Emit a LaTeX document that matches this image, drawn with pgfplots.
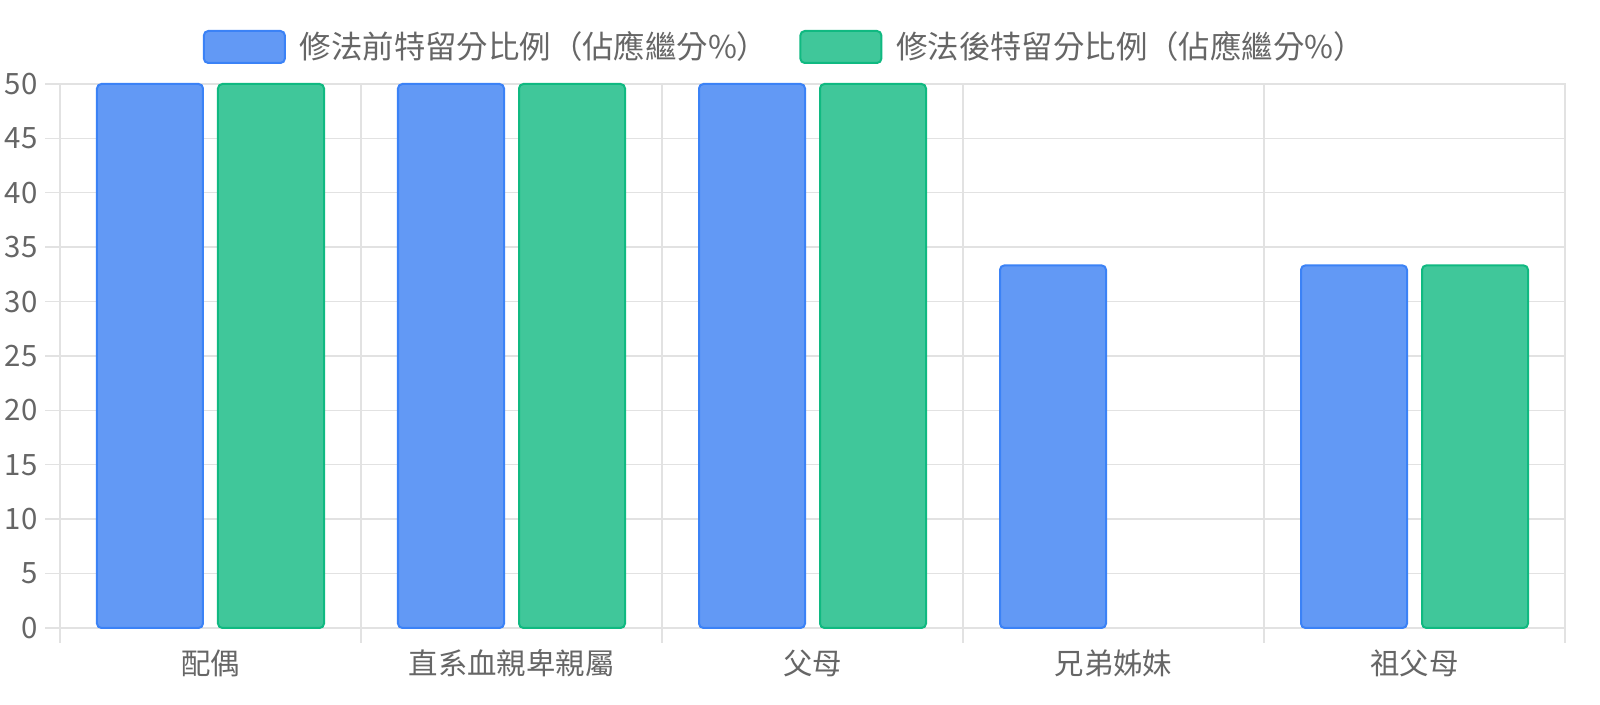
\documentclass[border=0pt]{standalone}
\usepackage{fontspec}
\setmainfont{Noto Sans CJK TC}
\usepackage{pgfplots}
\pgfplotsset{compat=1.18}
\definecolor{blueF}{RGB}{98,153,245}
\definecolor{blueD}{RGB}{59,130,246}
\definecolor{greenF}{RGB}{64,199,154}
\definecolor{greenD}{RGB}{16,185,129}
\definecolor{txt}{RGB}{102,102,102}
\definecolor{grd}{RGB}{226,226,226}
\begin{document}
\begin{tikzpicture}
\begin{axis}[name=ax,
  scale only axis, width=752.5pt, height=272pt,
  ymin=0, ymax=50, ytick={0,5,...,50},
  xmin=-0.5, xmax=4.5,
  xtick={0,...,4},
  xticklabels={配偶,直系血親卑親屬,父母,兄弟姊妹,祖父母},
  minor xtick={-0.5,0.5,...,4.5},
  ymajorgrids, xminorgrids, xmajorgrids=false,
  grid style={draw=grd, line width=0.7pt},
  axis line style={draw=grd, line width=0.7pt},
  tick align=outside, major tick length=7.5pt, minor tick length=7.5pt,
  tick style={draw=grd, line width=0.7pt},
  major x tick style={draw=none},
  xtick pos=bottom, ytick pos=left,
  ticklabel style={font=\fontsize{14.7}{17}\selectfont, text=txt},
  /pgf/number format/assume math mode=true,
  yticklabel style={inner sep=3.5pt},
  clip=false,
  ybar=7.5pt, bar width=53pt,
  legend columns=2,
  legend style={at={([xshift=5.5pt,yshift=18.5pt]axis description cs:0.475,1)}, anchor=center,
    draw=none, fill=none, font=\fontsize{15.7}{18}\selectfont, text=txt,
    /tikz/every even column/.append style={column sep=13.5pt},
    /tikz/every odd column/.append style={column sep=5pt}},
]
\addplot[fill=blueF, draw=blueD, line width=1pt, rounded corners=2.2pt,
  legend image code/.code={\draw[fill=blueF, draw=blueD, line width=1pt] (0pt,-8pt) rectangle (40.5pt,8pt);}]
  coordinates {(0,50) (1,50) (2,50) (3,33.33) (4,33.33)};
\addplot[fill=greenF, draw=greenD, line width=1pt, rounded corners=2.2pt,
  legend image code/.code={\draw[fill=greenF, draw=greenD, line width=1pt] (0pt,-8pt) rectangle (40.5pt,8pt);}]
  coordinates {(0,50) (1,50) (2,50) (4,33.33)};
\legend{修法前特留分比例（佔應繼分\%）,修法後特留分比例（佔應繼分\%）}
\end{axis}
\pgfresetboundingbox
\path ([shift={(-30pt,-38.5pt)}]ax.south west) rectangle ([shift={(17.5pt,42pt)}]ax.north east);
\end{tikzpicture}
\end{document}
